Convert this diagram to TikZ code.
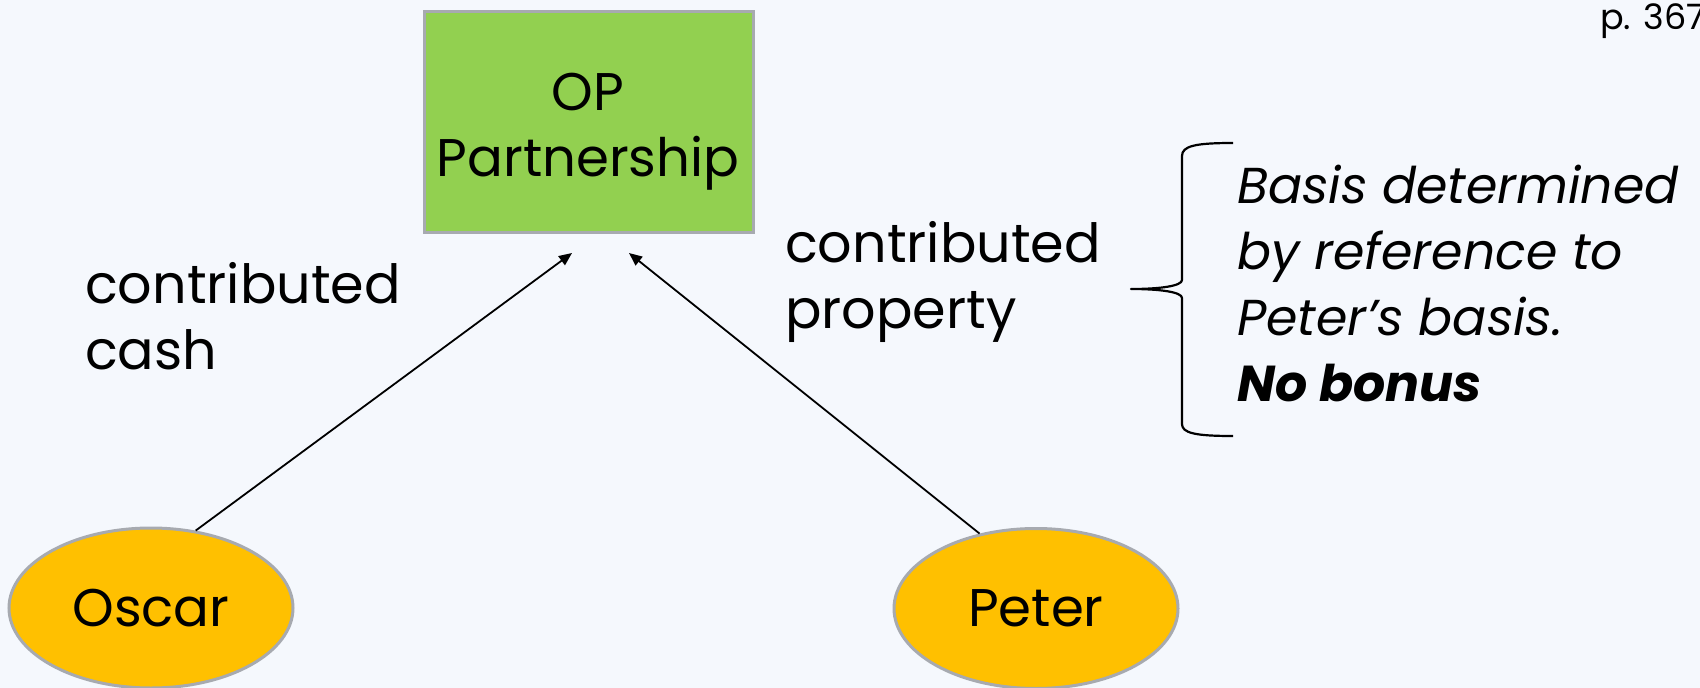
\documentclass[tikz,border=0pt]{standalone}
\usepackage{fontspec}
\setmainfont{Poppins}
\usetikzlibrary{shapes.geometric,arrows.meta}
\definecolor{pagebg}{HTML}{F5F8FD}
\definecolor{boxgreen}{HTML}{92D050}
\definecolor{ovalgold}{HTML}{FFC000}
\definecolor{rimgray}{HTML}{A7AAB0}
\tikzset{
  txt/.style={font=\fontsize{53}{66}\selectfont, text=black, inner sep=0pt, align=left},
  party/.style={ellipse, fill=ovalgold, draw=rimgray, line width=3pt,
    minimum width=284pt, minimum height=160pt, inner sep=0pt,
    font=\fontsize{53}{66}\selectfont},
  firm/.style={rectangle, fill=boxgreen, draw=rimgray, line width=3pt,
    minimum width=329pt, minimum height=221pt, inner sep=0pt},
  flow/.style={line width=1.8pt, -{Triangle[length=13pt,width=11pt]}},
  bracket/.style={line width=2.2pt, line join=round}
}
\begin{document}
\begin{tikzpicture}[x=1pt,y=-1pt]
  \clip (0,0) rectangle (1700,688);
  \fill[pagebg] (0,0) rectangle (1700,688);

  % partnership box and its caption (base = baseline of the last line)
  \node[firm] (box) at (588.5,121.5) {};
  \node[txt, align=center, anchor=base] (boxtxt) at (588,176) {OP\\Partnership};

  % the two partners
  \node[party] (oscar) at (151,608) {Oscar};
  \node[party] (peter) at (1036,608.5) {Peter};

  % contributions flowing into the partnership
  \coordinate (tipA) at (572,253);
  \coordinate (tipB) at (629,253);
  \draw[flow] (oscar.60) -- (tipA);
  \draw[flow] (peter.127) -- (tipB);

  \node[txt, font=\fontsize{54}{66}\selectfont, anchor=base west] (cash) at (85,369) {contributed\\cash};
  \node[txt, font=\fontsize{54}{66}\selectfont, anchor=base west] (prop) at (785,328) {contributed\\property};

  % brace and note on basis
  \draw[bracket] (1233,143) .. controls (1195,143) and (1182,146) .. (1182,156)
    -- (1182,280) .. controls (1182,286) and (1160,289) .. (1131,289)
    .. controls (1160,289) and (1182,292) .. (1182,298)
    -- (1182,424) .. controls (1182,433) and (1195,436) .. (1233,436);
  \node[txt, font=\fontsize{50.5}{66}\selectfont, anchor=base west] (note) at (1237,401)
    {\itshape Basis determined\\\itshape by reference to\\\itshape Peter’s basis.\\\bfseries\itshape No bonus};

  % page reference
  \node[txt, font=\fontsize{35}{40}\selectfont, anchor=base west] (page) at (1600,29) {p. 367};
\end{tikzpicture}
\end{document}
